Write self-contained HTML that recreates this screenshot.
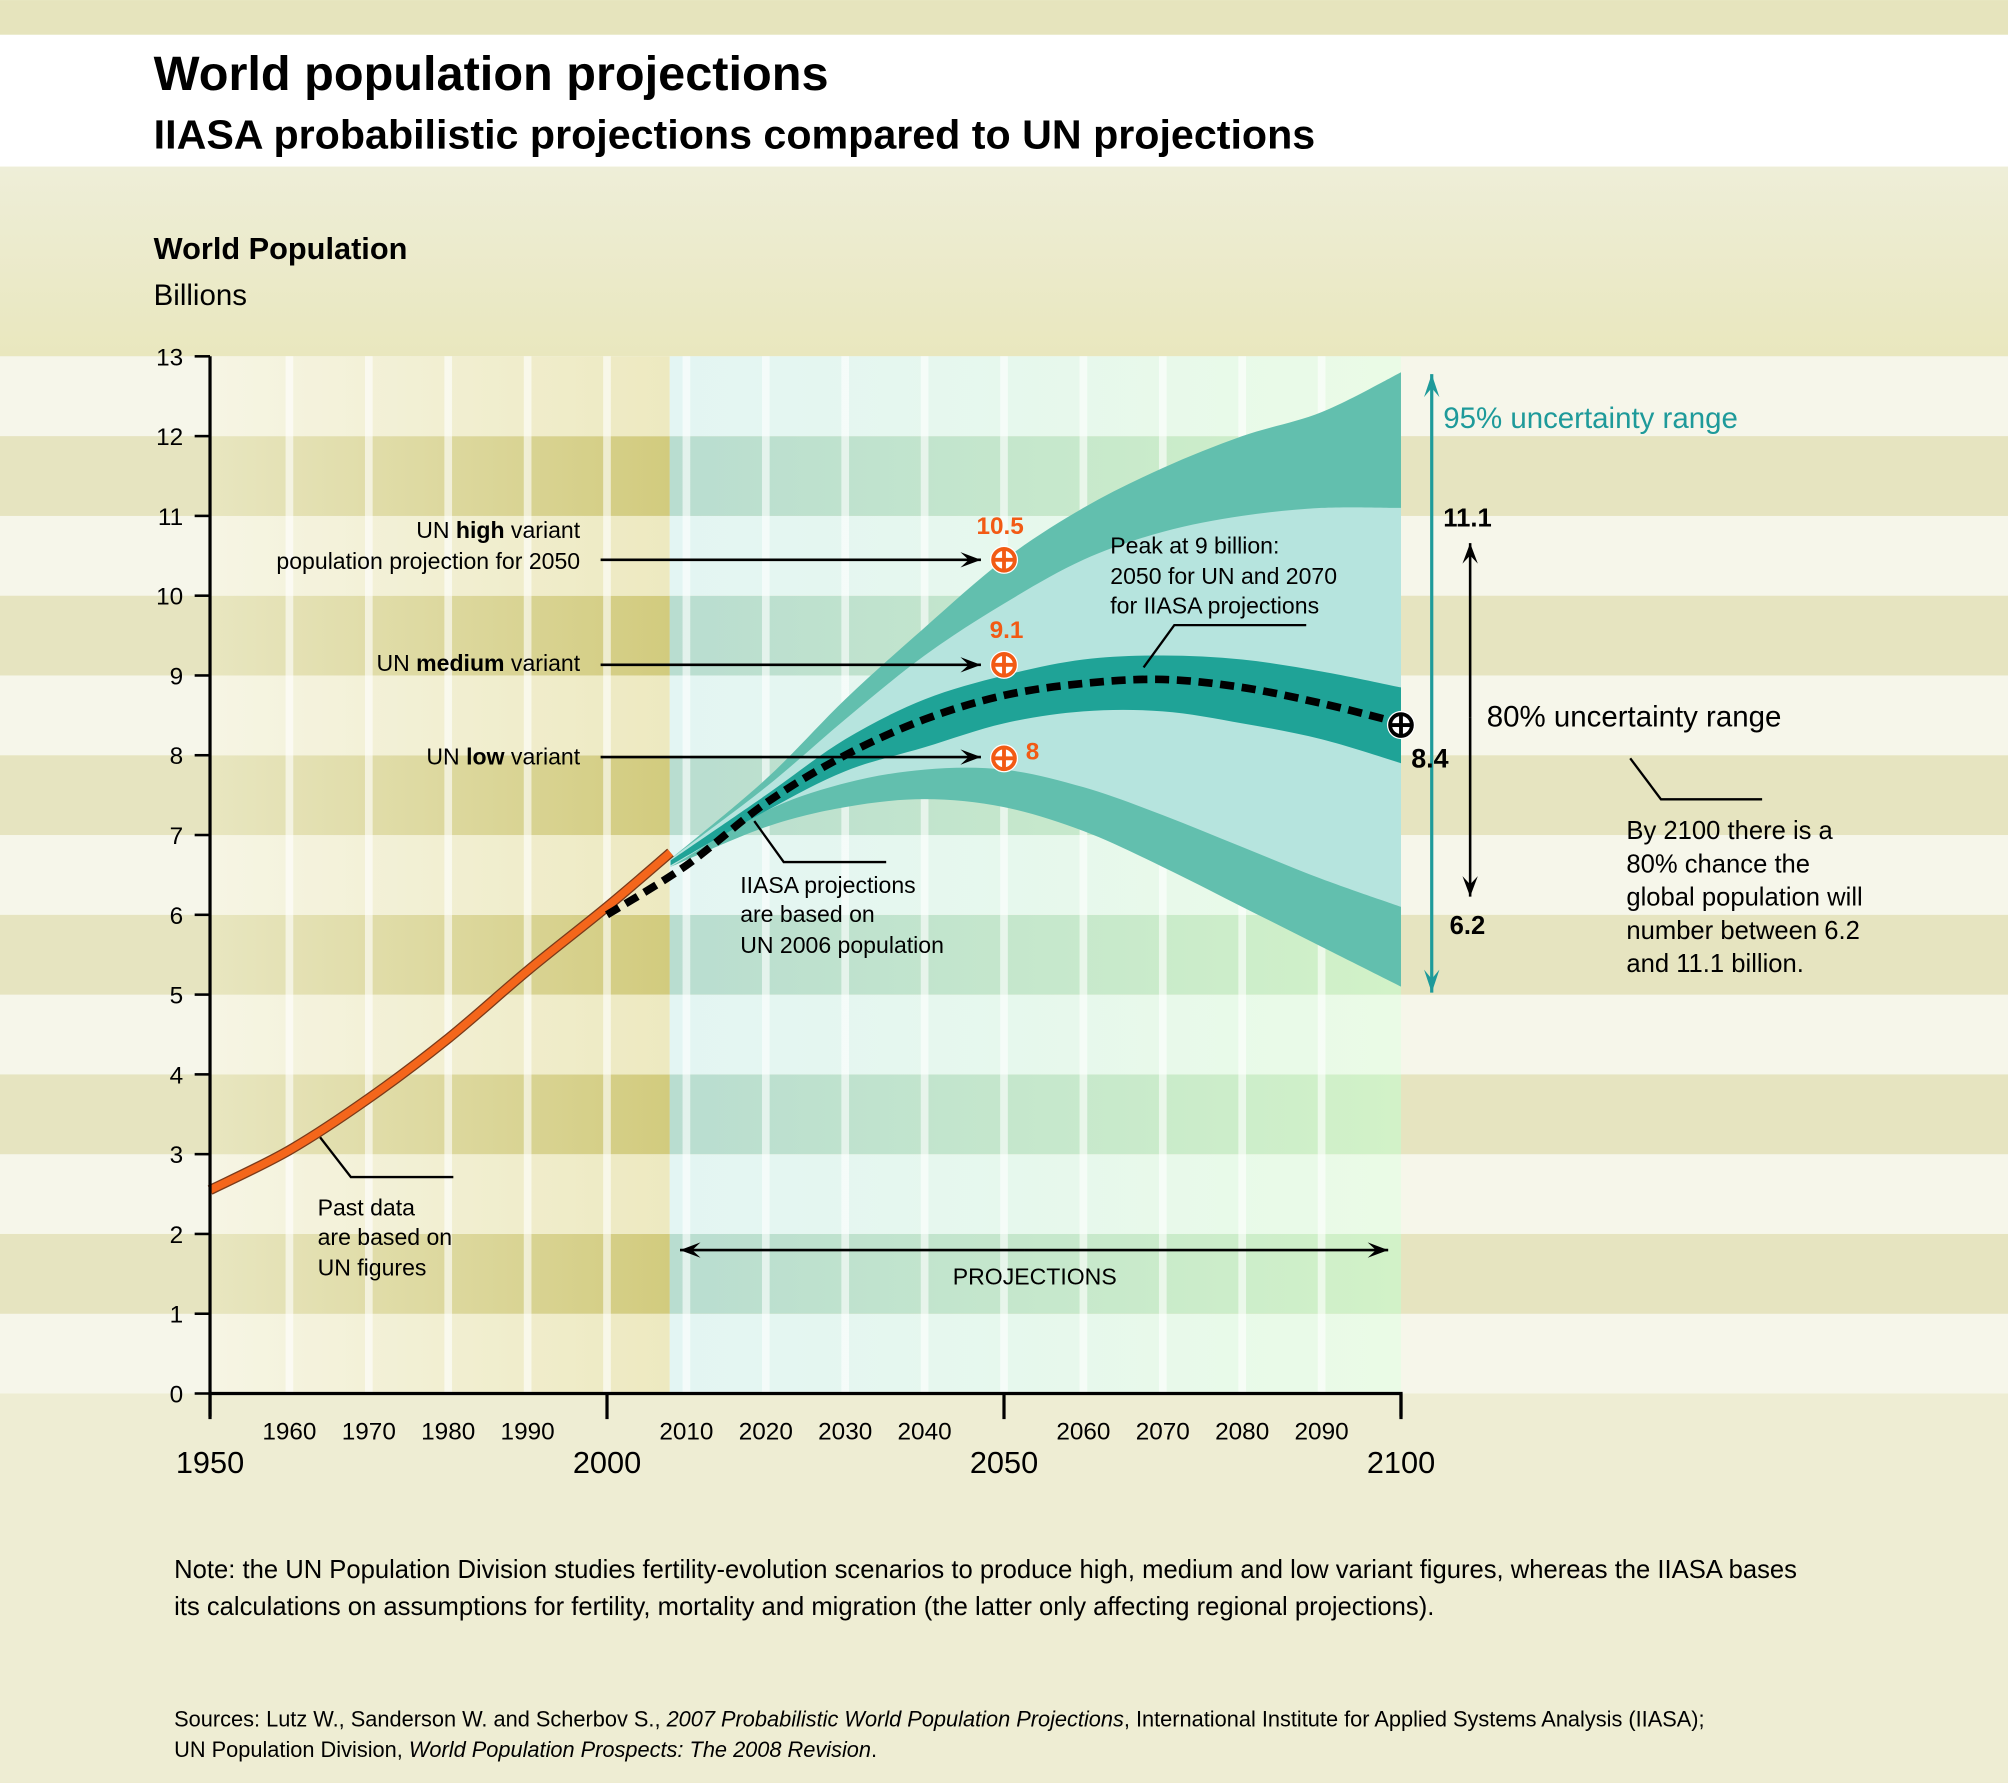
<!DOCTYPE html>
<html><head><meta charset="utf-8"><style>
html,body{margin:0;padding:0;background:#ecebc9}
svg{display:block}
text{font-family:"Liberation Sans",Arial,sans-serif;fill:#000}
</style></head><body>
<svg id="s" width="2008" height="1783" viewBox="0 0 1568 1392" xmlns="http://www.w3.org/2000/svg">
<defs>
<linearGradient id="olv" x1="0" x2="1" y1="0" y2="0"><stop offset="0" stop-color="#e8e6c0"/><stop offset="1" stop-color="#d2cb7e"/></linearGradient>
<linearGradient id="olvL" x1="0" x2="1" y1="0" y2="0"><stop offset="0" stop-color="#f6f5e4"/><stop offset="1" stop-color="#ede9c0"/></linearGradient>
<linearGradient id="cy" x1="0" x2="1" y1="0" y2="0"><stop offset="0" stop-color="#b9ddd0"/><stop offset="1" stop-color="#d2f2c8"/></linearGradient>
<linearGradient id="cyL" x1="0" x2="1" y1="0" y2="0"><stop offset="0" stop-color="#e3f5f3"/><stop offset="1" stop-color="#eafbe6"/></linearGradient>
<linearGradient id="top" x1="0" x2="0" y1="0" y2="1"><stop offset="0" stop-color="#eeeed8"/><stop offset="1" stop-color="#e9e7be"/></linearGradient>
</defs>
<rect width="1568" height="1392" fill="#eeedd3"/>
<rect width="1568" height="27" fill="#e6e4bd"/>
<rect y="27" width="1568" height="103" fill="#fff"/>
<rect y="130" width="1568" height="148" fill="url(#top)"/>
<g id="stripes"></g>
<g id="chart"></g>
<text x="120" y="70" font-size="38" font-weight="bold">World population projections</text>
<text x="120" y="116" font-size="32" font-weight="bold" textLength="907" lengthAdjust="spacingAndGlyphs">IIASA probabilistic projections compared to UN projections</text>
<text x="120" y="202" font-size="24" font-weight="bold">World Population</text>
<text x="120" y="238" font-size="23">Billions</text>
<g id="labels" font-size="19"></g>
<g font-size="18">
<text x="453" y="420" text-anchor="end">UN <tspan font-weight="bold">high</tspan> variant</text>
<text x="453" y="444" text-anchor="end">population projection for 2050</text>
<text x="453" y="524" text-anchor="end">UN <tspan font-weight="bold">medium</tspan> variant</text>
<text x="453" y="597" text-anchor="end">UN <tspan font-weight="bold">low</tspan> variant</text>
<text x="867" y="432">Peak at 9 billion:</text>
<text x="867" y="456">2050 for UN and 2070</text>
<text x="867" y="479">for IIASA projections</text>
<text x="578" y="697">IIASA projections</text>
<text x="578" y="720">are based on</text>
<text x="578" y="744">UN 2006 population</text>
<text x="248" y="949">Past data</text>
<text x="248" y="972">are based on</text>
<text x="248" y="996">UN figures</text>
<text x="808" y="1003" text-anchor="middle">PROJECTIONS</text>
</g>
<g font-size="20">
<text x="1270" y="655">By 2100 there is a</text>
<text x="1270" y="681">80% chance the</text>
<text x="1270" y="707">global population will</text>
<text x="1270" y="733">number between 6.2</text>
<text x="1270" y="759">and 11.1 billion.</text>
</g>
<text x="1127" y="334" font-size="23" style="fill:#1e9a9a">95% uncertainty range</text>
<text x="1161" y="567" font-size="23">80% uncertainty range</text>
<text x="1127" y="411" font-size="20" font-weight="bold">11.1</text>
<text x="1132" y="729" font-size="20" font-weight="bold">6.2</text>
<text x="1102" y="599" font-size="21" font-weight="bold">8.4</text>
<text x="781" y="417" font-size="19" font-weight="bold" text-anchor="middle" style="fill:#f25a14">10.5</text>
<text x="786" y="498" font-size="19" font-weight="bold" text-anchor="middle" style="fill:#f25a14">9.1</text>
<text x="801" y="593" font-size="19" font-weight="bold" style="fill:#f25a14">8</text>
<text x="136" y="1232" font-size="20">Note: the UN Population Division studies fertility-evolution scenarios to produce high, medium and low variant figures, whereas the IIASA bases</text>
<text x="136" y="1261" font-size="20">its calculations on assumptions for fertility, mortality and migration (the latter only affecting regional projections).</text>
<text x="136" y="1348" font-size="17">Sources: Lutz W., Sanderson W. and Scherbov S., <tspan font-style="italic">2007 Probabilistic World Population Projections</tspan>, International Institute for Applied Systems Analysis (IIASA);</text>
<text x="136" y="1372" font-size="17">UN Population Division, <tspan font-style="italic">World Population Prospects: The 2008 Revision</tspan>.</text>
</svg>
<script>
var NS="http://www.w3.org/2000/svg";
function X(y){return 164+(y-1950)*6.2}
function Y(v){return 1088-v*62.3}
function el(p,t,a,txt){var e=document.createElementNS(NS,t);for(var k in a)e.setAttribute(k,a[k]);if(txt!=null)e.textContent=txt;document.getElementById(p).appendChild(e);return e}
for(var i=0;i<13;i++){var y0=Y(i+1),dark=(i%2==1);
 el("stripes","rect",{x:0,y:y0,width:1568,height:62.3,fill:dark?"#e6e4c0":"#f6f6ea"});
 el("stripes","rect",{x:164,y:y0,width:359,height:62.3,fill:dark?"url(#olv)":"url(#olvL)"});
 el("stripes","rect",{x:523,y:y0,width:571,height:62.3,fill:dark?"url(#cy)":"url(#cyL)"});
}
for(var yr=1960;yr<2100;yr+=10){el("stripes","rect",{x:X(yr)-3,y:278,width:6,height:810,fill:"#ffffff",opacity:0.6})}
var yrs=[2008,2020,2030,2040,2050,2060,2070,2080,2090,2100];
var u95=[6.7,7.7,8.7,9.6,10.45,11.1,11.6,12.0,12.3,12.8];
var u80=[6.7,7.6,8.45,9.25,9.9,10.45,10.8,11.0,11.1,11.1];
var ui=[6.68,7.5,8.2,8.7,9.0,9.2,9.25,9.2,9.05,8.85];
var li=[6.62,7.3,7.8,8.1,8.4,8.55,8.55,8.4,8.2,7.9];
var l80=[6.6,7.3,7.65,7.82,7.82,7.6,7.25,6.85,6.45,6.1];
var l95=[6.6,7.1,7.35,7.45,7.35,7.05,6.6,6.1,5.6,5.1];
function curve(ys,vs){
 var p=ys.map(function(y,i){return [X(y),Y(vs[i])]});var d="";
 for(var i=0;i<p.length-1;i++){var p0=p[i-1]||p[i],p1=p[i],p2=p[i+1],p3=p[i+2]||p2;
  var c1=[p1[0]+(p2[0]-p0[0])/6,p1[1]+(p2[1]-p0[1])/6],c2=[p2[0]-(p3[0]-p1[0])/6,p2[1]-(p3[1]-p1[1])/6];
  d+="C"+c1+" "+c2+" "+p2+" ";}
 return {s:"M"+p[0],d:d,p:p};}
function band(a,b,fill){var A=curve(yrs,a),B=curve(yrs.slice().reverse(),b.slice().reverse());
 el("chart","path",{d:A.s+A.d+"L"+B.p[0]+" "+B.d+"Z",fill:fill});}
band(u95,l95,"#62bfae");band(u80,l80,"#b6e4de");band(ui,li,"#1fa397");
var ho=curve([1950,1960,1970,1980,1990,2000,2008],[2.55,3.05,3.7,4.45,5.3,6.1,6.78]);
el("chart","path",{d:ho.s+ho.d,fill:"none",stroke:"#7a3a1a","stroke-width":8});
el("chart","path",{d:ho.s+ho.d,fill:"none",stroke:"#f4661b","stroke-width":6});
var md=curve([2000,2010,2020,2030,2040,2050,2060,2070,2080,2090,2100],[6.0,6.62,7.4,8.0,8.45,8.75,8.9,8.95,8.85,8.65,8.4]);
el("chart","path",{d:md.s+md.d,fill:"none",stroke:"#000","stroke-width":6,"stroke-dasharray":"11 6"});
el("chart","path",{d:"M164 278V1106M164 1088H1094V1106",stroke:"#000","stroke-width":2.5,fill:"none"});
for(var v=0;v<=13;v++){el("chart","line",{x1:152,x2:164,y1:Y(v),y2:Y(v),stroke:"#000","stroke-width":2});
 el("labels","text",{x:143,y:Y(v)+7,"text-anchor":"end"},v);}
[1960,1970,1980,1990,2010,2020,2030,2040,2060,2070,2080,2090].forEach(function(y){el("labels","text",{x:X(y),y:1124,"text-anchor":"middle"},y)});
[1950,2000,2050,2100].forEach(function(y){el("chart","line",{x1:X(y),x2:X(y),y1:1088,y2:1108,stroke:"#000","stroke-width":2.5});
 el("labels","text",{x:X(y),y:1150,"text-anchor":"middle","font-size":24},y)});
function arrow(x1,y1,x2,y2,c,w,h){c=c||"#000";el("chart","line",{x1:x1,y1:y1,x2:x2,y2:y2,stroke:c,"stroke-width":w||2});
 var a=Math.atan2(y2-y1,x2-x1),L=h||16,W=6;var p=[[x2,y2],[x2-L*Math.cos(a)+W*Math.sin(a),y2-L*Math.sin(a)-W*Math.cos(a)],[x2-L*0.6*Math.cos(a),y2-L*0.6*Math.sin(a)],[x2-L*Math.cos(a)-W*Math.sin(a),y2-L*Math.sin(a)+W*Math.cos(a)]];
 el("chart","polygon",{points:p.join(" "),fill:c});}
arrow(469,437,766,437);arrow(469,519,766,519);arrow(469,591,766,591);
arrow(800,976,531,976);arrow(800,976,1084,976);
arrow(1118,600,1118,292,"#1e9a9a",2.5,18);arrow(1118,600,1118,775,"#1e9a9a",2.5,18);
arrow(1148,560,1148,424);arrow(1148,560,1148,700);
function target(x,y,c,bg){el("chart","circle",{cx:x,cy:y,r:11,fill:"#fff"});el("chart","circle",{cx:x,cy:y,r:8.5,fill:bg||"none",stroke:c,"stroke-width":3});
 el("chart","path",{d:"M"+(x-8)+" "+y+"H"+(x+8)+"M"+x+" "+(y-8)+"V"+(y+8),stroke:c,"stroke-width":3});}
target(784,437,"#f25a14");target(784,519,"#f25a14");target(784,592,"#f25a14");target(1094,566,"#000","#fff");
function pl(pts){el("chart","polyline",{points:pts,fill:"none",stroke:"#000","stroke-width":1.8})}
pl("893,521 917,488 1020,488");pl("589,641 612,673 692,673");pl("250,888 274,919 354,919");pl("1273,592 1297,624 1376,624");
</script>
</body></html>
